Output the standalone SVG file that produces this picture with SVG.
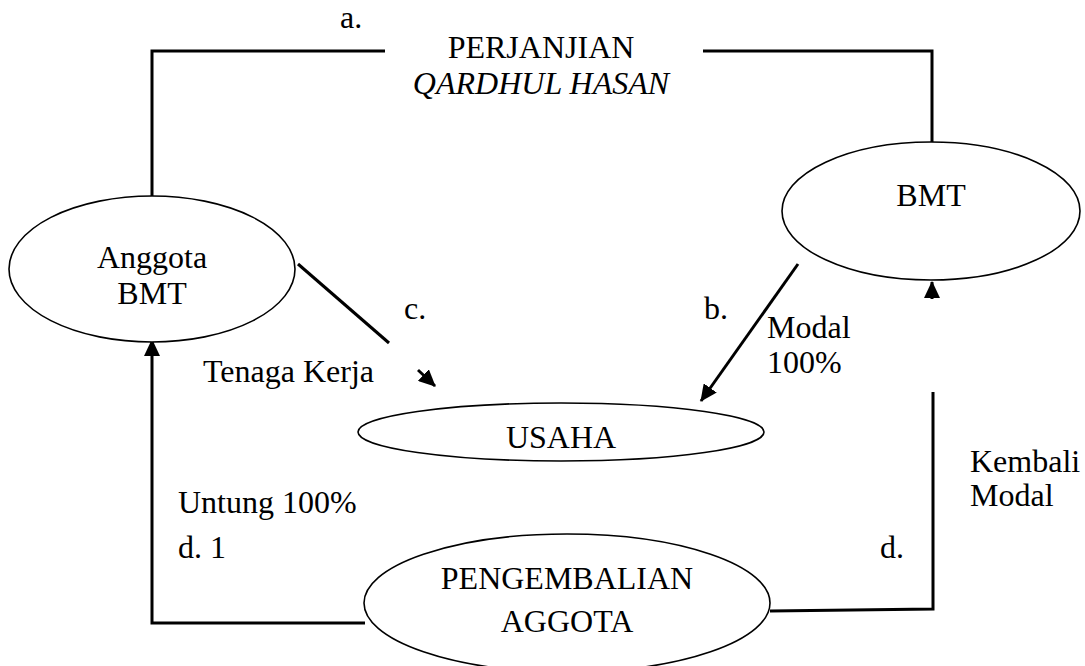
<svg xmlns="http://www.w3.org/2000/svg" width="1085" height="666" viewBox="0 0 1085 666">
<style>
.n{fill:#fff;stroke:#000;stroke-width:1.6}
.c{fill:none;stroke:#000;stroke-width:3}
text{font-family:"Liberation Serif","Times New Roman","DejaVu Serif",serif;font-size:32px;fill:#000}
.m{text-anchor:middle}
</style>
<defs>
<marker id="ah" markerWidth="17" markerHeight="16" refX="16" refY="8" orient="auto" markerUnits="userSpaceOnUse">
<path d="M0,0 L17,8 L0,16 Z" fill="#000"/>
</marker>
</defs>
<g id="connectors">
<polyline class="c" points="152,197 152,51 385,51"/>
<polyline class="c" points="703,51 932,51 932,142"/>
<line class="c" x1="298" y1="264" x2="389" y2="343"/>
<line class="c" x1="418" y1="370" x2="435" y2="386" marker-end="url(#ah)"/>
<line class="c" x1="798" y1="264" x2="701" y2="401" marker-end="url(#ah)"/>
<line class="c" x1="932" y1="299" x2="932" y2="282" marker-end="url(#ah)"/>
<polyline class="c" points="770,611 933,609 933,392"/>
<polyline class="c" points="365,623 152,623 152,340" marker-end="url(#ah)"/>
</g>
<g id="anggota">
<ellipse class="n" cx="152" cy="269" rx="143" ry="73"/>
<text class="m" x="152" y="268">Anggota</text>
<text class="m" x="152" y="304">BMT</text>
</g>
<g id="bmt">
<ellipse class="n" cx="931" cy="211" rx="149" ry="69"/>
<text class="m" x="931" y="206">BMT</text>
</g>
<g id="usaha">
<ellipse class="n" cx="561" cy="432" rx="203" ry="29"/>
<text class="m" x="561" y="448">USAHA</text>
</g>
<g id="pengembalian">
<ellipse class="n" cx="567" cy="603" rx="203" ry="69"/>
<text class="m" x="567" y="589">PENGEMBALIAN</text>
<text class="m" x="567" y="632">AGGOTA</text>
</g>
<g id="labels">
<text x="340" y="28">a.</text>
<text class="m" x="541" y="58">PERJANJIAN</text>
<text class="m" x="541" y="94" font-style="italic">QARDHUL HASAN</text>
<text x="404" y="319">c.</text>
<text x="203" y="382">Tenaga Kerja</text>
<text x="704" y="319">b.</text>
<text x="767" y="338">Modal</text>
<text x="767" y="373">100%</text>
<text x="970" y="472">Kembali</text>
<text x="970" y="506">Modal</text>
<text x="880" y="558">d.</text>
<text x="178" y="513">Untung 100%</text>
<text x="178" y="558">d. 1</text>
</g>
</svg>
